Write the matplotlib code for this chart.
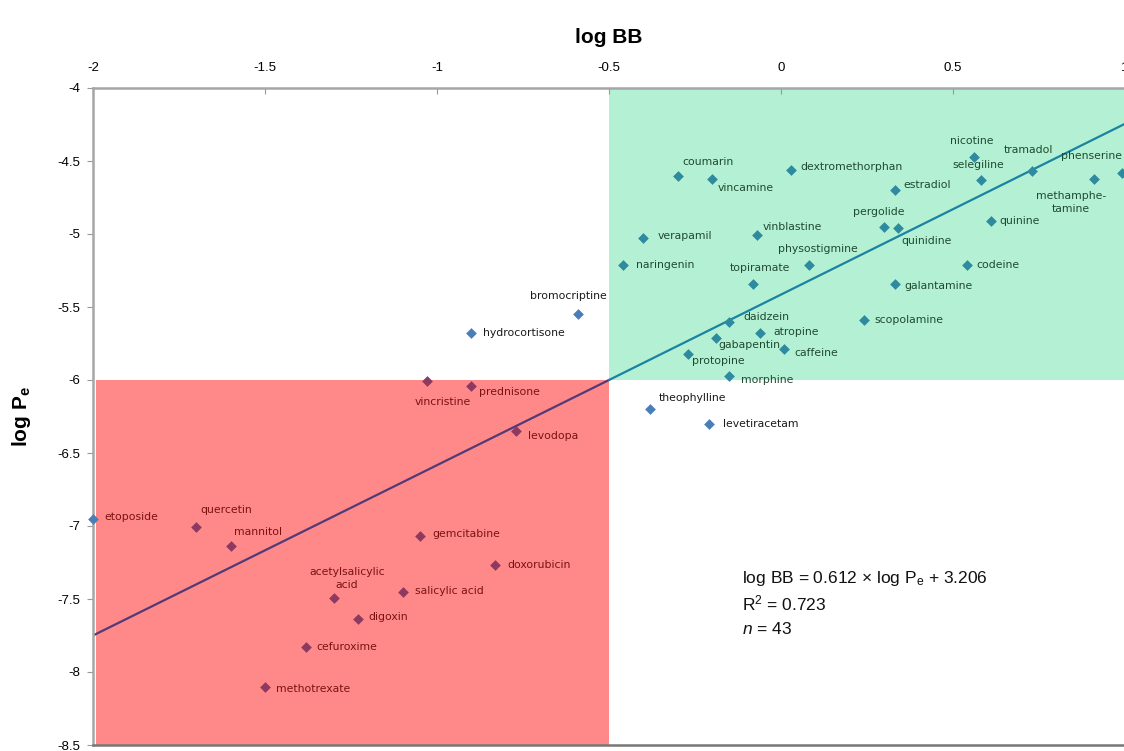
import matplotlib.pyplot as plt
from matplotlib.patches import Rectangle

plt.rcParams['font.family'] = ['Liberation Sans', 'DejaVu Sans']
plt.rcParams['mathtext.fontset'] = 'custom'
plt.rcParams['mathtext.rm'] = 'Liberation Sans'
plt.rcParams['mathtext.it'] = 'Liberation Sans:italic'

# compounds: log BB (x) and log Pe (y)
names = ['hydrocortisone', 'bromocriptine', 'theophylline', 'levetiracetam', 'etoposide',
         'vincristine', 'prednisone', 'levodopa', 'quercetin', 'mannitol', 'gemcitabine',
         'doxorubicin', 'acetylsalicylic\nacid', 'salicylic acid', 'digoxin', 'cefuroxime',
         'methotrexate', 'coumarin', 'vincamine', 'dextromethorphan', 'estradiol', 'nicotine',
         'selegiline', 'tramadol', 'phenserine', 'methamphe-\ntamine', 'pergolide', 'quinidine',
         'quinine', 'verapamil', 'vinblastine', 'naringenin', 'physostigmine', 'topiramate',
         'codeine', 'galantamine', 'scopolamine', 'daidzein', 'atropine', 'gabapentin',
         'caffeine', 'protopine', 'morphine']
log_bb = [-0.90, -0.59, -0.38, -0.21, -2.00,
          -1.03, -0.90, -0.77, -1.70, -1.60, -1.05,
          -0.83, -1.30, -1.10, -1.23, -1.38,
          -1.50, -0.30, -0.20, 0.03, 0.33, 0.56,
          0.58, 0.73, 0.99, 0.91, 0.30, 0.34,
          0.61, -0.40, -0.07, -0.46, 0.08, -0.08,
          0.54, 0.33, 0.24, -0.15, -0.06, -0.19,
          0.01, -0.27, -0.15]
log_pe = [-5.68, -5.55, -6.20, -6.30, -6.95,
          -6.01, -6.04, -6.35, -7.01, -7.14, -7.07,
          -7.27, -7.49, -7.45, -7.64, -7.83,
          -8.10, -4.60, -4.62, -4.56, -4.70, -4.47,
          -4.63, -4.57, -4.58, -4.62, -4.95, -4.96,
          -4.91, -5.03, -5.01, -5.21, -5.21, -5.34,
          -5.21, -5.34, -5.59, -5.60, -5.68, -5.71,
          -5.79, -5.82, -5.97]

# regression line
fit_x = [-2.0, -0.5, 1.0]
fit_y = [-7.75, -6.0, -4.245]

equation = r'log BB = 0.612 × log P$_\mathregular{e}$ + 3.206'
r2_text = r'R$^\mathregular{2}$ = 0.723'
n_text = r'$\mathit{n}$ = 43'

# label placement (pixels right, pixels down, alignment)
label_pos = {
    'hydrocortisone': (12, 0, 'left'), 'bromocriptine': (-48, -18, 'left'),
    'theophylline': (8, -11, 'left'), 'levetiracetam': (14, 0, 'left'),
    'etoposide': (11, -2, 'left'), 'vincristine': (-12, 21, 'left'),
    'prednisone': (8, 6, 'left'), 'levodopa': (12, 5, 'left'),
    'quercetin': (4, -17, 'left'), 'mannitol': (3, -14, 'left'),
    'gemcitabine': (13, -2, 'left'), 'doxorubicin': (12, 0, 'left'),
    'acetylsalicylic\nacid': (13, -19, 'center'), 'salicylic acid': (12, -1, 'left'),
    'digoxin': (10, -2, 'left'), 'cefuroxime': (10, 0, 'left'),
    'methotrexate': (11, 2, 'left'), 'coumarin': (5, -14, 'left'),
    'vincamine': (5, 9, 'left'), 'dextromethorphan': (9, -3, 'left'),
    'estradiol': (9, -5, 'left'), 'nicotine': (-2, -16, 'center'),
    'selegiline': (-2, -15, 'center'), 'tramadol': (-28, -21, 'left'),
    'phenserine': (-61, -17, 'left'), 'methamphe-\ntamine': (-23, 24, 'center'),
    'pergolide': (-5, -15, 'center'), 'quinidine': (3, 13, 'left'),
    'quinine': (9, 0, 'left'), 'verapamil': (14, -2, 'left'),
    'vinblastine': (6, -8, 'left'), 'naringenin': (13, 0, 'left'),
    'physostigmine': (-31, -16, 'left'), 'topiramate': (-24, -16, 'left'),
    'codeine': (10, 0, 'left'), 'galantamine': (10, 2, 'left'),
    'scopolamine': (11, 0, 'left'), 'daidzein': (14, -5, 'left'),
    'atropine': (13, -1, 'left'), 'gabapentin': (3, 7, 'left'),
    'caffeine': (10, 4, 'left'), 'protopine': (4, 7, 'left'),
    'morphine': (12, 4, 'left'),
}

red_box = (-1.99, -8.5, 1.49, 2.5)
green_box = (-0.5, -6.0, 1.5, 2.0)

fig = plt.figure(figsize=(11.24, 7.51), dpi=100)
ax = fig.add_axes([93 / 1124, 6 / 751, 1032 / 1124, 657 / 751])

ax.add_patch(Rectangle(red_box[:2], red_box[2], red_box[3], facecolor='#FF8989',
                       edgecolor='none', zorder=0))
ax.add_patch(Rectangle(green_box[:2], green_box[2], green_box[3], facecolor='#B4F0D3',
                       edgecolor='none', zorder=0))

ax.plot(fit_x[:2], fit_y[:2], color='#523A78', lw=1.6, zorder=2)
ax.plot(fit_x[1:], fit_y[1:], color='#1C82A2', lw=1.6, zorder=2)


def in_box(x, y, b):
    return b[0] <= x <= b[0] + b[2] and b[1] <= y <= b[1] + b[3]


for nm, x, y in zip(names, log_bb, log_pe):
    if in_box(x, y, red_box):
        mc = '#8E3A60'
    elif in_box(x, y, green_box):
        mc = '#2E8A9E'
    else:
        mc = '#4A7EBB'
    if x < -0.5 and y < -6:
        tc = '#7A1212'
    elif x > -0.5 and y > -6:
        tc = '#1E4A30'
    else:
        tc = '#1A1A1A'
    ax.scatter([x], [y], marker='D', s=30, color=mc, zorder=3, clip_on=False, linewidths=0)
    dx, dy, ha = label_pos[nm]
    ax.annotate(nm, (x, y), xytext=(dx, -dy), textcoords='offset pixels', ha=ha,
                va='center', fontsize=7.8, color=tc, family='DejaVu Sans',
                linespacing=1.35, annotation_clip=False)

ax.text(0.629, 0.254, equation, transform=ax.transAxes, fontsize=12.5, color='#111111',
        va='center')
ax.text(0.629, 0.216, r2_text, transform=ax.transAxes, fontsize=12.5, color='#111111',
        va='center')
ax.text(0.629, 0.177, n_text, transform=ax.transAxes, fontsize=12.5, color='#111111',
        va='center')

ax.set_xlim(-2, 1)
ax.set_ylim(-8.5, -4)
ax.set_xticks([-2, -1.5, -1, -0.5, 0, 0.5, 1])
ax.set_xticklabels(['-2', '-1.5', '-1', '-0.5', '0', '0.5', '1'])
ax.set_yticks([-4, -4.5, -5, -5.5, -6, -6.5, -7, -7.5, -8, -8.5])
ax.set_yticklabels(['-4', '-4.5', '-5', '-5.5', '-6', '-6.5', '-7', '-7.5', '-8', '-8.5'])
ax.xaxis.tick_top()
ax.xaxis.set_label_position('top')
ax.tick_params(axis='x', direction='in', length=4, color='#999999', labelsize=9.5, pad=10)
ax.tick_params(axis='y', direction='out', length=4, color='#999999', labelsize=9.5, pad=5)

for s in ['left', 'top']:
    ax.spines[s].set_color('#A6A6A6')
    ax.spines[s].set_linewidth(1.8)
ax.spines['bottom'].set_color('#777777')
ax.spines['bottom'].set_linewidth(1.8)
ax.spines['right'].set_visible(False)

ax.set_xlabel('log BB', fontsize=15, fontweight='bold', labelpad=14)
ax.set_ylabel(r'log P$_\mathregular{e}$', fontsize=15, fontweight='bold', labelpad=18)

fig.savefig('out.png', dpi=100)
